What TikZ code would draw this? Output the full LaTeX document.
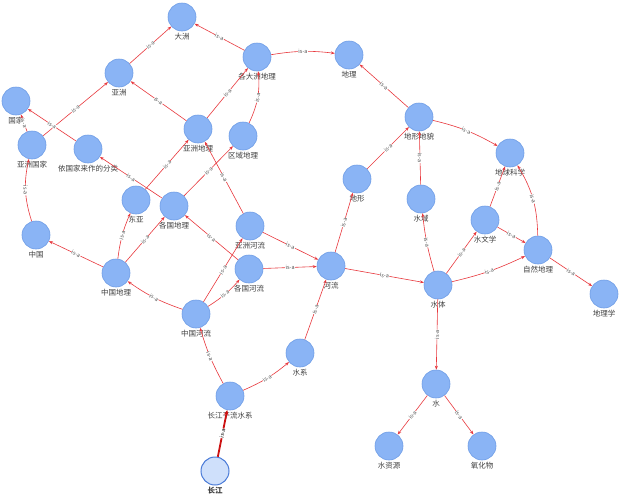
\documentclass[tikz,border=0pt]{standalone}
\usepackage{fontspec}
\setmainfont{Noto Sans CJK SC}
\usetikzlibrary{arrows.meta}
\definecolor{nodefill}{HTML}{8AB4F5}
\definecolor{nodeedge}{HTML}{6E9DE6}
\definecolor{edgered}{HTML}{E8383D}
\definecolor{lblgray}{HTML}{404040}
\definecolor{isagray}{HTML}{505050}
\definecolor{cjfill}{HTML}{CFE0FB}
\definecolor{cjedge}{HTML}{4A7BD8}
\definecolor{cjred}{HTML}{CC1111}
\begin{document}
\begin{tikzpicture}[x=1pt,y=-1pt,
  concept/.style={circle, fill=nodefill, draw=nodeedge, line width=0.6pt, minimum size=28pt, inner sep=0pt},
  focus/.style={circle, fill=cjfill, draw=cjedge, line width=1pt, minimum size=28pt, inner sep=0pt},
  lbl/.style={font=\fontsize{7.5}{8}\selectfont, text=lblgray, inner sep=1.5pt},
  rel/.style={draw=edgered, line width=0.6pt, -{Stealth[length=4pt,width=3pt]}},
  relthick/.style={draw=cjred, line width=1.8pt, -{Stealth[length=5pt,width=4.5pt]}},
  isa/.style={font=\fontsize{5.5}{6}\selectfont, text=isagray, sloped, fill=white, inner sep=0.3pt, midway}]
\useasboundingbox (0,0) rectangle (640,501);
\fill[white] (0,0) rectangle (640,501);
% nodes
\node[concept, label={[lbl]below:大洲}] (dazhou) at (182,17) {};
\node[concept, label={[lbl]below:各大洲地理}] (gedazhou) at (257,57) {};
\node[concept, label={[lbl]below:地理}] (dili) at (349,55) {};
\node[concept, label={[lbl]below:亚洲}] (yazhou) at (119,73) {};
\node[concept, label={[lbl]below:国家}] (guojia) at (16,101) {};
\node[concept, label={[lbl]below:亚洲国家}] (yzguojia) at (32,145) {};
\node[concept, label={[lbl]below:依国家来作的分类}] (yiguojia) at (88,149) {};
\node[concept, label={[lbl]below:亚洲地理}] (yzdili) at (198,129) {};
\node[concept, label={[lbl]below:区域地理}] (qydili) at (243,136) {};
\node[concept, label={[lbl]below:地形地貌}] (dxdm) at (419,117) {};
\node[concept, label={[lbl]below:地球科学}] (dqkx) at (510,153) {};
\node[concept, label={[lbl]below:东亚}] (dongya) at (136,200) {};
\node[concept, label={[lbl]below:各国地理}] (gedili) at (174,206) {};
\node[concept, label={[lbl]below:地形}] (dixing) at (357,179) {};
\node[concept, label={[lbl]below:水域}] (shuiyu) at (421,199) {};
\node[concept, label={[lbl]below:水文学}] (swx) at (485,220) {};
\node[concept, label={[lbl]below:中国}] (zhongguo) at (36,235) {};
\node[concept, label={[lbl]below:亚洲河流}] (yzhl) at (250,226) {};
\node[concept, label={[lbl]below:自然地理}] (zrdl) at (538,250) {};
\node[concept, label={[lbl]below:各国河流}] (gehl) at (249,269) {};
\node[concept, label={[lbl]below:河流}] (heliu) at (331,266) {};
\node[concept, label={[lbl]below:中国地理}] (zgdl) at (116,273) {};
\node[concept, label={[lbl]below:水体}] (shuiti) at (438,285) {};
\node[concept, label={[lbl]below:地理学}] (dlx) at (604,294) {};
\node[concept, label={[lbl]below:中国河流}] (zghl) at (196,314) {};
\node[concept, label={[lbl]below:水系}] (shuixi) at (300,353) {};
\node[concept, label={[lbl]below:水}] (shui) at (436,384) {};
\node[concept, label={[lbl]below:长江干流水系}] (cjgl) at (230,396) {};
\node[concept, label={[lbl]below:水资源}] (szy) at (389,446) {};
\node[concept, label={[lbl]below:氧化物}] (yhw) at (482,446) {};
\node[focus, label={[lbl,font=\fontsize{7.5}{8}\selectfont\bfseries]below:长江}] (cj) at (215,471) {};
% edges
\draw[rel] (yazhou) -- node[isa]{is-a} (dazhou);
\draw[rel] (gedazhou) -- node[isa]{is-a} (dazhou);
\draw[rel] (gedazhou) to[bend left=8] node[isa]{is-a} (dili);
\draw[rel] (yzdili) -- node[isa]{is-a} (yazhou);
\draw[rel] (yzdili) -- node[isa]{is-a} (gedazhou);
\draw[rel] (qydili) to[bend right=15] node[isa]{is-a} (gedazhou);
\draw[rel] (yzguojia) -- node[isa]{is-a} (yazhou);
\draw[rel] (yzguojia) -- node[isa]{is-a} (guojia);
\draw[rel] (yiguojia) -- node[isa]{is-a} (guojia);
\draw[rel] (gedili) -- node[isa]{is-a} (yiguojia);
\draw[rel] (zhongguo) to[bend left=15] node[isa]{is-a} (yzguojia);
\draw[rel] (zgdl) -- node[isa]{is-a} (zhongguo);
\draw[rel] (zgdl) to[bend left=8] node[isa]{is-a} (dongya);
\draw[rel] (zgdl) -- node[isa]{is-a} (gedili);
\draw[rel] (dongya) -- node[isa]{is-a} (yzdili);
\draw[rel] (gedili) -- node[isa]{is-a} (qydili);
\draw[rel] (yzhl) -- node[isa]{is-a} (yzdili);
\draw[rel] (yzhl) -- node[isa]{is-a} (heliu);
\draw[rel] (gehl) -- node[isa]{is-a} (heliu);
\draw[rel] (gehl) -- node[isa]{is-a} (gedili);
\draw[rel] (zghl) to[bend left=8] node[isa]{is-a} (zgdl);
\draw[rel] (zghl) -- node[isa]{is-a} (yzhl);
\draw[rel] (zghl) to[bend right=8] node[isa]{is-a} (gehl);
\draw[rel] (cjgl) to[bend left=6] node[isa]{is-a} (zghl);
\draw[rel] (cjgl) to[bend right=8] node[isa]{is-a} (shuixi);
\draw[relthick] (cj) -- node[isa,text=black]{is-a} (cjgl);
\draw[rel] (shuixi) -- node[isa]{is-a} (heliu);
\draw[rel] (heliu) -- node[isa]{is-a} (dixing);
\draw[rel] (heliu) -- node[isa]{is-a} (shuiti);
\draw[rel] (dixing) -- node[isa]{is-a} (dxdm);
\draw[rel] (shuiyu) -- node[isa]{is-a} (dxdm);
\draw[rel] (dxdm) -- node[isa]{is-a} (dili);
\draw[rel] (dxdm) to[bend left=8] node[isa]{is-a} (dqkx);
\draw[rel] (shuiti) to[bend left=5] node[isa]{is-a} (shuiyu);
\draw[rel] (shuiti) -- node[isa]{is-a} (swx);
\draw[rel] (shuiti) to[bend right=6] node[isa]{is-a} (zrdl);
\draw[rel] (swx) -- node[isa]{is-a} (dqkx);
\draw[rel] (swx) -- node[isa]{is-a} (zrdl);
\draw[rel] (zrdl) to[bend right=15] node[isa]{is-a} (dqkx);
\draw[rel] (zrdl) -- node[isa]{is-a} (dlx);
\draw[rel] (shuiti) -- node[isa]{is-a} (shui);
\draw[rel] (shui) -- node[isa]{is-a} (szy);
\draw[rel] (shui) -- node[isa]{is-a} (yhw);
\end{tikzpicture}
\end{document}
